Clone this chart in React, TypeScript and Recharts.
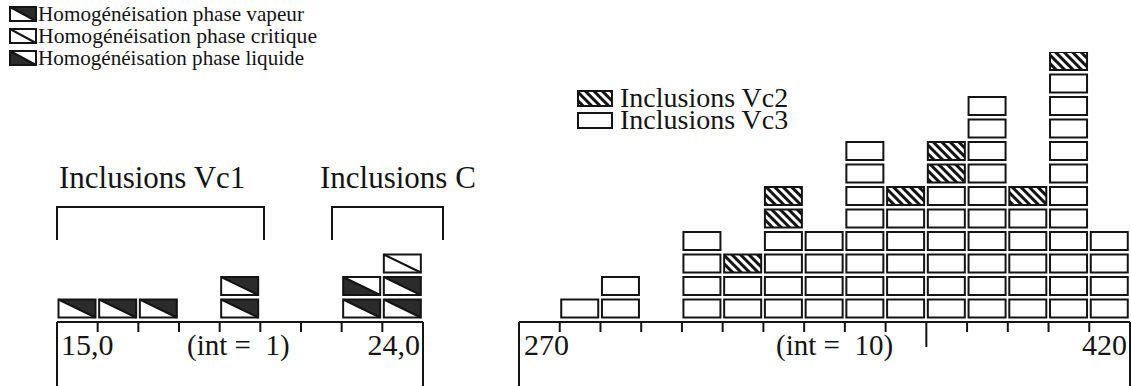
import React from "react";
import { BarChart, Bar, XAxis, YAxis } from "recharts";

// left histogram (int = 1), bins 15,0 .. 24,0
const leftBins = ["15", "16", "17", "18", "19", "20", "21", "22", "23"];
const vapeur = [1, 1, 1, 0, 2, 0, 0, 1, 2];
const liquide = [0, 0, 0, 0, 0, 0, 0, 1, 0];
const critique = [0, 0, 0, 0, 0, 0, 0, 0, 1];

// right histogram (int = 10), bins 270 .. 420
const rightBins = ["270", "280", "290", "300", "310", "320", "330", "340", "350", "360", "370", "380", "390", "400", "410"];
const vc3 = [0, 1, 2, 0, 4, 2, 4, 4, 8, 5, 6, 10, 5, 11, 4];
const vc2 = [0, 0, 0, 0, 0, 1, 2, 0, 0, 1, 2, 0, 1, 1, 0];

const homLegend = [
  { kind: "vapeur", label: "Homogénéisation phase vapeur", len: 266 },
  { kind: "critique", label: "Homogénéisation phase critique", len: 279 },
  { kind: "liquide", label: "Homogénéisation phase liquide", len: 266 },
];
const vcLegend = [
  { kind: "hatch", label: "Inclusions Vc2" },
  { kind: "plain", label: "Inclusions Vc3" },
];

const leftData = leftBins.map((bin, i) => ({
  bin,
  vapeur: vapeur[i],
  liquide: liquide[i],
  critique: critique[i],
}));
const rightData = rightBins.map((bin, i) => ({ bin, vc3: vc3[i], vc2: vc2[i] }));

const INK = "#141414";
const DARK = "#2b2b2b";
const FONT = "'Liberation Serif', 'Times New Roman', serif";
const W = 1131;
const H = 386;

function Cell({ kind, x, y, w, h }: { kind: string; x: number; y: number; w: number; h: number }) {
  const frame = <rect x={x} y={y} width={w} height={h} fill="none" stroke={INK} strokeWidth={2} />;
  if (kind === "plain") {
    return <rect x={x} y={y} width={w} height={h} fill="#fff" stroke={INK} strokeWidth={2} />;
  }
  if (kind === "hatch") {
    return (
      <g>
        <rect x={x} y={y} width={w} height={h} fill="url(#vc2hatch)" />
        {frame}
      </g>
    );
  }
  const diag = <line x1={x} y1={y} x2={x + w} y2={y + h} stroke={INK} strokeWidth={2} />;
  let tri = null;
  if (kind === "vapeur") tri = <polygon points={`${x},${y} ${x + w},${y} ${x + w},${y + h}`} fill={DARK} />;
  if (kind === "liquide") tri = <polygon points={`${x},${y} ${x},${y + h} ${x + w},${y + h}`} fill={DARK} />;
  return (
    <g>
      <rect x={x} y={y} width={w} height={h} fill="#fff" />
      {tri}
      {diag}
      {frame}
    </g>
  );
}

// one stacked segment -> n unit boxes
function stackOf(kind: string, key: string) {
  // eslint-disable-next-line @typescript-eslint/no-explicit-any
  return (props: any) => {
    const { x, y, width, height, payload } = props;
    const n = payload ? payload[key] : 0;
    if (!n || !height) return <g />;
    const slot = height / n;
    const cells = [];
    for (let i = 0; i < n; i++) {
      cells.push(<Cell key={i} kind={kind} x={x + 1.5} y={y + i * slot} w={width - 4} h={slot - 4.5} />);
    }
    return <g>{cells}</g>;
  };
}

// tick marks sit on the bin edges, not on the bin centres
// eslint-disable-next-line @typescript-eslint/no-explicit-any
function EdgeTick({ x, y, payload, bins, band, long }: any) {
  const idx = bins.indexOf(payload.value);
  const off = typeof payload.offset === "number" && payload.offset > 0 ? payload.offset : band / 2;
  const count = bins.length;
  const lenAt = (i: number) => (i === 0 || i === count ? H - y : i === long ? 25 : 10);
  return (
    <g>
      <line x1={x - off} x2={x - off} y1={y} y2={y + lenAt(idx)} stroke={INK} strokeWidth={2} />
      {idx === count - 1 && (
        <line x1={x + off} x2={x + off} y1={y} y2={y + lenAt(count)} stroke={INK} strokeWidth={2} />
      )}
    </g>
  );
}

export default function App() {
  return (
    <div style={{ position: "absolute", left: 0, top: 0, width: W, height: H, background: "#fff", fontFamily: FONT }}>
      <svg width={W} height={H} style={{ position: "absolute", left: 0, top: 0 }}>
        <defs>
          <pattern id="vc2hatch" patternUnits="userSpaceOnUse" width={6} height={6} patternTransform="rotate(-45)">
            <rect width={6} height={6} fill="#fff" />
            <rect width={3} height={6} fill={INK} />
          </pattern>
        </defs>

        {homLegend.map((l, i) => (
          <g key={l.kind}>
            <Cell kind={l.kind} x={10} y={7 + i * 22} w={26} h={14} />
            <text
              x={38}
              y={21 + i * 22}
              fontSize={22}
              fill={INK}
              fontFamily={FONT}
              textLength={l.len}
              lengthAdjust="spacingAndGlyphs"
            >
              {l.label}
            </text>
          </g>
        ))}

        {vcLegend.map((l, i) => (
          <g key={l.kind}>
            <Cell kind={l.kind} x={578} y={91 + i * 22} w={34} h={15} />
            <text x={620} y={107 + i * 22} fontSize={28} fill={INK} fontFamily={FONT}>
              {l.label}
            </text>
          </g>
        ))}

        <text x={59} y={188} fontSize={31} fill={INK} fontFamily={FONT}>Inclusions Vc1</text>
        <text x={320} y={188} fontSize={31} fill={INK} fontFamily={FONT}>Inclusions C</text>
        <path d="M57 240 V207 H264 V240" fill="none" stroke={INK} strokeWidth={2} />
        <path d="M332 240 V207 H443 V240" fill="none" stroke={INK} strokeWidth={2} />

        <text x={61} y={355} fontSize={30} fill={INK} fontFamily={FONT}>15,0</text>
        <text x={187} y={355} fontSize={29} fill={INK} fontFamily={FONT} style={{ whiteSpace: "pre" }}>(int =  1)</text>
        <text x={420} y={355} fontSize={30} fill={INK} fontFamily={FONT} textAnchor="end">24,0</text>
        <text x={524} y={355} fontSize={30} fill={INK} fontFamily={FONT}>270</text>
        <text x={776} y={355} fontSize={29} fill={INK} fontFamily={FONT} style={{ whiteSpace: "pre" }}>(int =  10)</text>
        <text x={1127} y={355} fontSize={30} fill={INK} fontFamily={FONT} textAnchor="end">420</text>
      </svg>

      <div style={{ position: "absolute", left: 0, top: 0 }}>
        <BarChart
          width={W}
          height={H}
          data={leftData}
          margin={{ top: 52, right: W - 423, left: 57, bottom: 0 }}
          barCategoryGap={0}
          barGap={0}
        >
          <YAxis hide type="number" domain={[0, 12]} allowDataOverflow />
          <XAxis
            dataKey="bin"
            interval={0}
            height={64}
            tickSize={0}
            tickMargin={0}
            tickLine={false}
            axisLine={{ stroke: INK, strokeWidth: 2 }}
            tick={<EdgeTick bins={leftBins} band={366 / 9} long={-1} />}
          />
          <Bar dataKey="vapeur" stackId="a" isAnimationActive={false} shape={stackOf("vapeur", "vapeur")} />
          <Bar dataKey="liquide" stackId="a" isAnimationActive={false} shape={stackOf("liquide", "liquide")} />
          <Bar dataKey="critique" stackId="a" isAnimationActive={false} shape={stackOf("critique", "critique")} />
        </BarChart>
      </div>

      <div style={{ position: "absolute", left: 0, top: 0 }}>
        <BarChart
          width={W}
          height={H}
          data={rightData}
          margin={{ top: 52, right: 1, left: 519, bottom: 0 }}
          barCategoryGap={0}
          barGap={0}
        >
          <YAxis hide type="number" domain={[0, 12]} allowDataOverflow />
          <XAxis
            dataKey="bin"
            interval={0}
            height={64}
            tickSize={0}
            tickMargin={0}
            tickLine={false}
            axisLine={{ stroke: INK, strokeWidth: 2 }}
            tick={<EdgeTick bins={rightBins} band={611 / 15} long={10} />}
          />
          <Bar dataKey="vc3" stackId="a" isAnimationActive={false} shape={stackOf("plain", "vc3")} />
          <Bar dataKey="vc2" stackId="a" isAnimationActive={false} shape={stackOf("hatch", "vc2")} />
        </BarChart>
      </div>
    </div>
  );
}
